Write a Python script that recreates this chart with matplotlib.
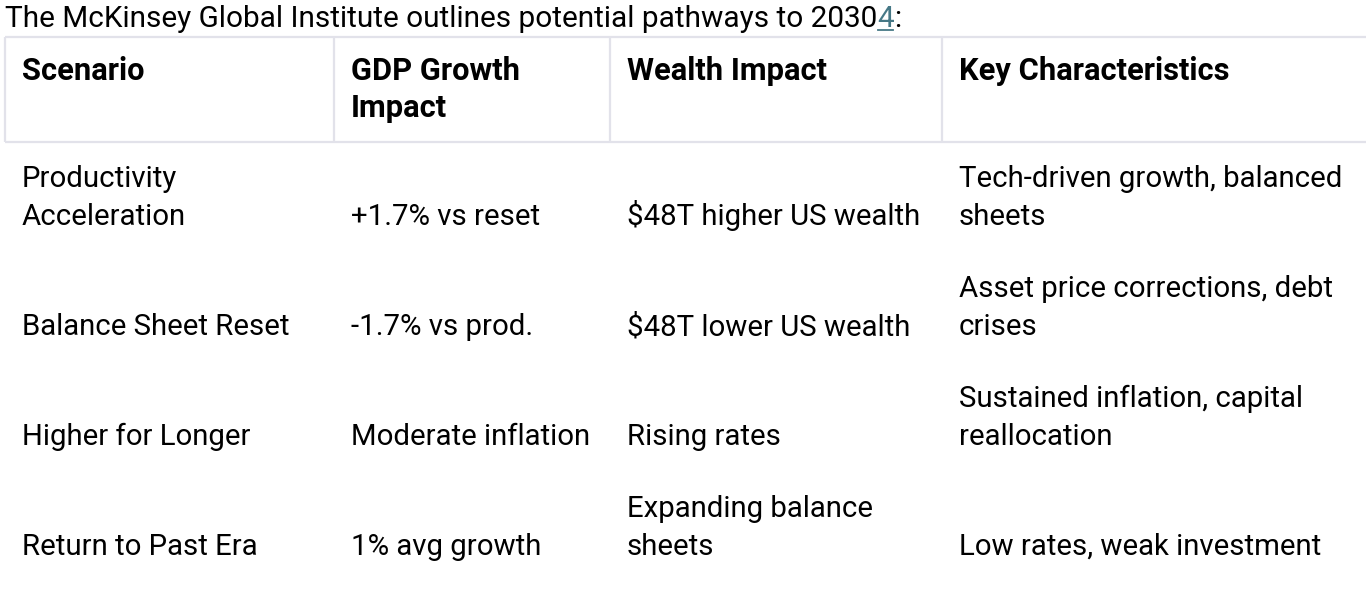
import matplotlib
matplotlib.use("Agg")
import matplotlib.pyplot as plt

# ---- data ----
title_text = "The McKinsey Global Institute outlines potential pathways to 2030"
title_ref = "4"
title_tail = ":"
headers = ["Scenario", "GDP Growth\nImpact", "Wealth Impact", "Key Characteristics"]
scenarios = ["Productivity\nAcceleration", "Balance Sheet Reset", "Higher for Longer", "Return to Past Era"]
gdp_impact = ["+1.7% vs reset", "-1.7% vs prod.", "Moderate inflation", "1% avg growth"]
wealth_impact = ["$48T higher US wealth", "$48T lower US wealth", "Rising rates", "Expanding balance\nsheets"]
characteristics = ["Tech-driven growth, balanced\nsheets", "Asset price corrections, debt\ncrises",
                   "Sustained inflation, capital\nreallocation", "Low rates, weak investment"]

# ---- layout ----
W, H = 1366, 591
FONT = ["Roboto", "DejaVu Sans"]
FS = 21.2
FS_HEAD = 22.2
FS_TITLE = 21.4
TEXT = "#000000"
BORDER = "#e2e2ea"
LINK = "#467886"

fig = plt.figure(figsize=(W / 100, H / 100), dpi=100)
ax = fig.add_axes([0, 0, 1, 1])
ax.set_xlim(0, W)
ax.set_ylim(H, 0)
ax.axis("off")

col_x = [5, 334, 610, 942]
pad = 17
header_top, header_bot = 37, 142
header_base = 80
header_gap = 37
line_gap = 38
row_base0, row_gap = 225, 110

# header borders
ax.plot([col_x[0], W + 5], [header_top, header_top], color=BORDER, lw=1.6, solid_capstyle="butt")
ax.plot([col_x[0], W + 5], [header_bot, header_bot], color=BORDER, lw=1.6, solid_capstyle="butt")
for x in col_x:
    ax.plot([x, x], [header_top, header_bot], color=BORDER, lw=1.6, solid_capstyle="butt")

# header text (top aligned lines)
for j, h in enumerate(headers):
    for k, line in enumerate(h.split("\n")):
        ax.text(col_x[j] + pad, header_base + k * header_gap, line, fontsize=FS_HEAD, fontweight="bold",
                family=FONT, color=TEXT, va="baseline", ha="left")

# body text (bottom aligned lines)
columns = [scenarios, gdp_impact, wealth_impact, characteristics]
for j, col in enumerate(columns):
    for i, cell in enumerate(col):
        lines = cell.split("\n")
        base = row_base0 + i * row_gap
        for k, line in enumerate(reversed(lines)):
            ax.text(col_x[j] + pad, base - k * line_gap, line, fontsize=FS,
                    family=FONT, color=TEXT, va="baseline", ha="left")

# title with underlined reference
fig.canvas.draw()
r = fig.canvas.get_renderer()
inv = ax.transData.inverted()
title_base = 27
t1 = ax.text(5, title_base, title_text, fontsize=FS_TITLE, family=FONT, color=TEXT, va="baseline", ha="left")
bb = t1.get_window_extent(r)
x_end = inv.transform((bb.x1, bb.y0))[0]
t2 = ax.text(x_end, title_base, title_ref, fontsize=FS_TITLE, family=FONT, color=LINK, va="baseline", ha="left")
bb2 = t2.get_window_extent(r)
x_end2 = inv.transform((bb2.x1, bb2.y0))[0]
ax.plot([x_end + 1, x_end2 - 1], [title_base + 3, title_base + 3], color=LINK, lw=1.3)
ax.text(x_end2, title_base, title_tail, fontsize=FS_TITLE, family=FONT, color=TEXT, va="baseline", ha="left")

fig.savefig("out.png", dpi=100, facecolor="white")
